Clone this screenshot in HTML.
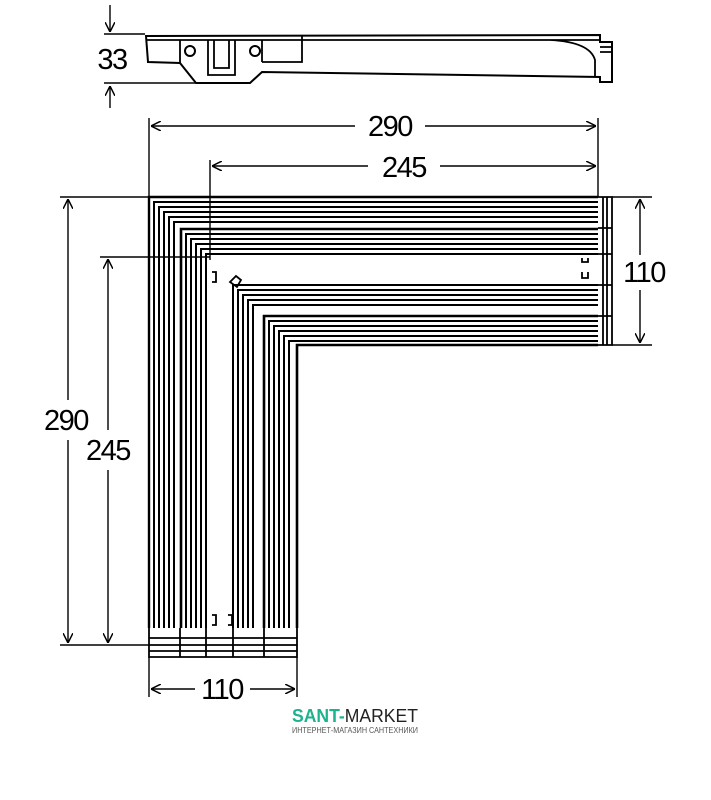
<!DOCTYPE html>
<html><head><style>body{margin:0;background:#fff}svg{display:block}text{font-family:"Liberation Sans",sans-serif}</style></head><body>
<svg width="711" height="800" viewBox="0 0 711 800" xmlns="http://www.w3.org/2000/svg">
<defs><marker id="a" viewBox="0 0 10 10" refX="10" refY="5" markerWidth="7" markerHeight="7" orient="auto-start-reverse"><path d="M0,0 L10,5 L0,10" fill="none" stroke="#000" stroke-width="1.5"/></marker></defs>
<g stroke="#000" fill="none" stroke-width="1.4">
<line x1="110" y1="5" x2="110" y2="32" marker-end="url(#a)"/>
<line x1="110" y1="108" x2="110" y2="86" marker-end="url(#a)"/>
<line x1="104" y1="34" x2="145" y2="34"/>
<line x1="104" y1="83" x2="196" y2="83"/>
<path d="M146,36 L600,35 L600,42 L612,42 L612,82 L600,82 L600,77 L262,72 L250,83 L196,83 L180,63 L148,62 Z" stroke-width="2"/>
<path d="M146,40 L600,40 M302,36 L302,62 L262,62 M180,63 L180,40 M262,62 L262,40 M550,40 Q590,42 595,60 L595,77 M600,47 L612,47 M600,52 L612,52" stroke-width="1.8"/>
<circle cx="190" cy="51" r="5" stroke-width="2"/><circle cx="255" cy="51" r="5" stroke-width="2"/>
<path d="M208,40 L208,75 L235,75 L235,40 M214,40 L214,68 L229,68 L229,40" stroke-width="1.8"/>
<line x1="149" y1="118" x2="149" y2="197"/><line x1="598" y1="118" x2="598" y2="197"/>
<line x1="210" y1="160" x2="210" y2="260"/>
<line x1="151" y1="126" x2="355" y2="126" marker-start="url(#a)"/><line x1="425" y1="126" x2="596" y2="126" marker-end="url(#a)"/>
<line x1="212" y1="166" x2="368" y2="166" marker-start="url(#a)"/><line x1="440" y1="166" x2="596" y2="166" marker-end="url(#a)"/>
<line x1="60" y1="197" x2="149" y2="197"/><line x1="60" y1="645" x2="149" y2="645"/>
<line x1="100" y1="257" x2="210" y2="257"/>
<line x1="68" y1="199" x2="68" y2="400" marker-start="url(#a)"/><line x1="68" y1="440" x2="68" y2="643" marker-end="url(#a)"/>
<line x1="108" y1="259" x2="108" y2="430" marker-start="url(#a)"/><line x1="108" y1="470" x2="108" y2="643" marker-end="url(#a)"/>
<line x1="612" y1="197" x2="652" y2="197"/><line x1="612" y1="345" x2="652" y2="345"/>
<line x1="640" y1="199" x2="640" y2="255" marker-start="url(#a)"/><line x1="640" y1="290" x2="640" y2="343" marker-end="url(#a)"/>
<line x1="149" y1="657" x2="149" y2="697"/><line x1="297" y1="657" x2="297" y2="697"/>
<line x1="151" y1="689" x2="195" y2="689" marker-start="url(#a)"/><line x1="250" y1="689" x2="295" y2="689" marker-end="url(#a)"/>
<g stroke-width="2">
<path d="M149,628 V197 H598" stroke-width="2.4"/><path d="M154,628 V202 H598"/><path d="M159,628 V207 H598"/><path d="M164,628 V212 H598"/><path d="M169,628 V217 H598"/><path d="M174,628 V222 H598"/>
<path d="M181,628 V229 H598" stroke-width="2.6"/><path d="M186,628 V234 H598"/><path d="M191,628 V239 H598"/><path d="M196,628 V244 H598"/><path d="M201,628 V249 H598"/><path d="M206,628 V254 H598"/>
<path d="M233,628 V285 H598"/><path d="M238,628 V290 H598"/><path d="M243,628 V295 H598"/><path d="M248,628 V300 H598"/><path d="M253,628 V305 H598"/>
<path d="M264,628 V316 H598" stroke-width="2.6"/><path d="M269,628 V321 H598"/><path d="M274,628 V326 H598"/><path d="M279,628 V331 H598"/><path d="M284,628 V336 H598"/><path d="M289,628 V341 H598"/><path d="M297,628 V345 H598" stroke-width="2.6"/>
</g>
<g stroke-width="1.8">
<path d="M598,197 H612 V345 H598 M598,228 H612 M598,254 H612 M598,285 H612 M598,316 H612 M603,197 V345 M607,197 V345" />
<path d="M149,628 V657 H297 V628 M180,628 V657 M206,628 V657 M233,628 V657 M264,628 V657 M149,638 H297 M149,645 H297 M149,651 H297"/>
<path d="M212,272 h4 v10 h-4 M212,625 h4 v-10 h-4 M230,282 l6,-6 l5,4 l-4,7 z M228,625 h4 v-10 h-4 M582,258 v4 h6 v-4 M582,272 v6 h6 v-6"/>
</g>
</g>
<g font-size="29" letter-spacing="-1.5" fill="#000" text-anchor="middle">
<text x="112" y="69">33</text>
<text x="390" y="136">290</text>
<text x="404" y="177">245</text>
<text x="644" y="282">110</text>
<text x="66" y="430">290</text>
<text x="108" y="460">245</text>
<text x="222" y="699">110</text>
</g>
<text x="292" y="722" font-size="18" font-weight="bold" fill="#1db38e" textLength="126" lengthAdjust="spacingAndGlyphs">SANT-<tspan font-weight="normal" fill="#222">MARKET</tspan></text>
<text x="292" y="733" font-size="8" fill="#555" textLength="126" lengthAdjust="spacingAndGlyphs">ИНТЕРНЕТ-МАГАЗИН САНТЕХНИКИ</text>
</svg>
</body></html>
